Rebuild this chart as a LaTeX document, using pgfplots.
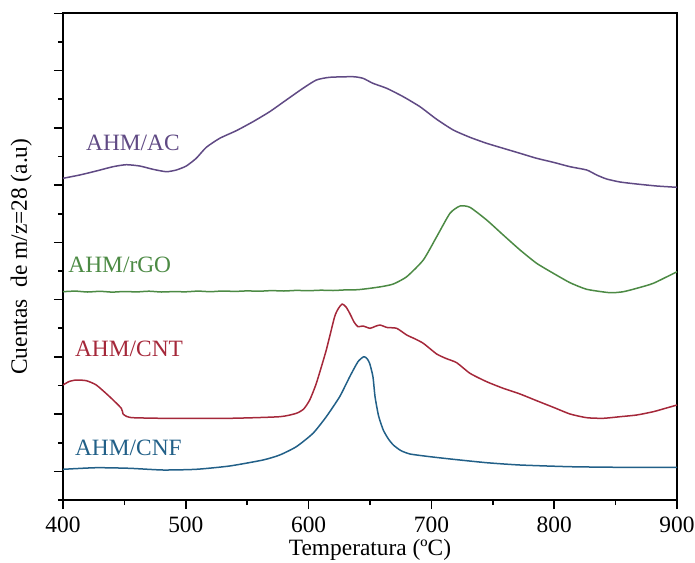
\documentclass[border=0pt]{standalone}
\usepackage{fontspec}
\setmainfont{Liberation Serif}
\usepackage{pgfplots}
\pgfplotsset{compat=1.18}
\definecolor{cAC}{RGB}{96,74,132}
\definecolor{cGO}{RGB}{76,138,68}
\definecolor{cCNT}{RGB}{165,40,58}
\definecolor{cCNF}{RGB}{34,96,136}

\begin{document}
\fontsize{11.7}{14}\selectfont
\begin{tikzpicture}
\begin{axis}[
  scale only axis,
  width=307pt, height=243.35pt,
  xmin=400, xmax=900, ymin=0, ymax=486.71,
  xtick={400,500,...,900},
  minor xtick={450,550,...,850},
  ytick={28.63,85.89,143.15,200.41,257.67,314.93,372.19,429.45,486.71},
  minor ytick={0,57.26,114.52,171.78,229.04,286.3,343.56,400.82,458.08},
  yticklabels={},
  tick pos=left,
  tick align=outside,
  major tick length=4.5pt,
  minor tick length=2.5pt,
  axis line style={line width=0.9pt},
  every tick/.style={black, line width=0.8pt},
  /pgf/number format/assume math mode=true,
  /pgf/number format/set thousands separator={},
  tick label style={font=\fontsize{11.7}{14}\selectfont},
  label style={font=\fontsize{11.7}{14}\selectfont},
  xlabel={Temperatura (ºC)},
  xlabel style={yshift=5pt},
  ylabel={Cuentas\ \ de m/z=28 (a.u)},
  ylabel style={yshift=-1pt},
  every axis plot/.append style={line width=0.75pt, line join=round, smooth, tension=0.35},
]
% AHM/AC
\addplot[cAC] coordinates {
(400.0,321.7) (413.6,325) (427.1,329) (440.7,333.3) (451.5,335.3) (462.5,334)
(473.3,330.7) (484.1,328.3) (492.3,330) (500.4,334) (508.5,341.7) (516.7,352.7)
(527.6,361.7) (541.1,369.3) (554.7,378.3) (568.3,388.3) (581.8,400) (595.4,411.7)
(606.3,420) (617.2,422.7) (636.2,423.3) (644.3,421.7) (652.4,416.7) (663.6,411.7)
(677.1,403.3) (690.7,393.3) (704.3,380.7) (717.8,370) (731.4,362.7) (745.0,356.7)
(758.5,351.7) (772.2,346.7) (785.7,341.7) (799.3,337.7) (812.9,333.3) (826.5,330)
(834.6,325) (842.7,321) (853.6,318) (867.2,316) (883.5,314) (900,312.7)
};
% AHM/rGO
\addplot[cGO] coordinates {
(400,208.3) (410,208.9) (420,208.0) (430,208.7) (440,207.9) (450,208.5) (460,208.1)
(470,208.8) (480,208.0) (490,208.4) (500,208.2) (510,208.9) (520,208.3) (530,209.0)
(540,208.6) (550,209.1) (560,208.8) (570,209.4) (580,209.0) (590,209.6) (600,209.3)
(610,209.8) (620,209.5) (630,210.1) (640,210.3) (650,211.7) (660,213.5) (669.0,216)
(679.9,223.3) (693.4,240) (704.3,263.3) (715.1,286.7) (723.3,294) (731.4,292.7)
(745.0,280) (758.5,265) (772.2,250) (785.7,236.7) (799.3,226.7) (812.9,217.3)
(826.5,210.7) (845.4,207.3) (856.3,208.3) (867.2,211.7) (880.7,216.7) (900,228.3)
};
% AHM/CNT
\addplot[cCNT] coordinates {
(400,115) (405,118.5) (410.8,120) (419.0,119.3) (427.1,115) (438.0,103.3)
(447.5,91.7) (448.9,86) (452,83.5) (457.0,82.3) (481.4,81.7) (535.7,81.7)
(576.5,83.3) (590.0,86.7) (596,91) (600.9,100) (606.3,116.7) (614.4,150)
(621.2,183.3) (624.5,192) (627.4,196) (630.5,193) (633.5,186.7) (637,178)
(640.2,173.3) (644.3,174) (650,171.7) (654,173.5) (658.1,175) (664,172.5)
(671.7,171.7) (679.9,165) (686,161.5) (693.4,156.7) (704.3,146) (712,141.5)
(720.6,137.3) (731.4,126.7) (745.0,118.3) (758.5,111.7) (772.2,106) (785.7,99.3)
(799.3,92.7) (812.9,86) (826.5,82.3) (840.0,81.7) (853.6,83.3) (867.2,85)
(880.7,88.3) (890,91.5) (900,95)
};
% AHM/CNF
\addplot[cCNF] coordinates {
(400,30.7) (427.1,32.3) (454.3,31.7) (481.4,30) (508.5,30.7) (535.7,34)
(562.9,40) (576.5,45) (590.0,53.3) (603.6,66.7) (614.4,83.3) (625.3,103.3)
(633.5,123.3) (640.2,138.3) (644.9,143.3) (647.5,141.5) (649.7,136.7) (652.4,123.3)
(654.1,103.3) (657,84) (660.8,70) (665,61) (669.0,55) (675,49.5) (682.6,46)
(698.9,43.3) (717.8,40.7) (745.0,37.3) (772.2,35) (812.9,33.3) (853.6,32.7) (900,32.7)
};
\node[anchor=west, inner sep=0pt, text=cAC]  at (axis cs:418.5,357.3) {AHM/AC};
\node[anchor=west, inner sep=0pt, text=cGO]  at (axis cs:404.1,235)   {AHM/rGO};
\node[anchor=west, inner sep=0pt, text=cCNT] at (axis cs:409.5,150.7) {AHM/CNT};
\node[anchor=west, inner sep=0pt, text=cCNF] at (axis cs:409.5,51.7)  {AHM/CNF};
\end{axis}
\pgfresetboundingbox
\path (-31.5pt,-31pt) rectangle (316pt,250pt);
\end{tikzpicture}
\end{document}
